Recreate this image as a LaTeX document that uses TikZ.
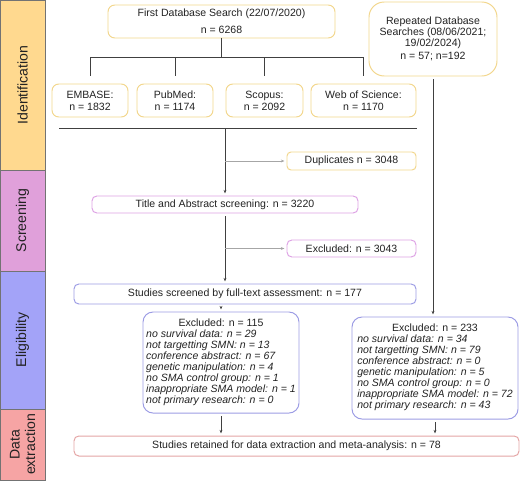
\documentclass[tikz,border=0pt]{standalone}
\usepackage{fontspec}
\setmainfont{Liberation Sans}
\usetikzlibrary{positioning, arrows.meta}

\definecolor{idfill}{HTML}{FFD98F}
\definecolor{scrfill}{HTML}{E0A0DA}
\definecolor{elifill}{HTML}{A3A3F8}
\definecolor{datfill}{HTML}{F6A4A4}
\definecolor{idline}{HTML}{F2D68C}
\definecolor{scrline}{HTML}{DDA2E4}
\definecolor{eliline}{HTML}{9C9CE4}
\definecolor{datline}{HTML}{E4A4A4}
\definecolor{textgrey}{HTML}{222222}

\begin{document}
\begin{tikzpicture}[x=0.025cm, y=-0.025cm,
        font=\fontsize{7.5}{7.8}\selectfont, text=textgrey,
        boxsize/.style 2 args={minimum width=#1*0.025cm, minimum height=#2*0.025cm},
        band/.style={draw=black!55, line width=0.6pt, rotate=90, inner sep=0pt, font=\fontsize{10}{11}\selectfont, align=center},
        idbox/.style={draw=idline, line width=0.7pt, rounded corners=0.17cm, inner sep=0pt, align=center},
        scrbox/.style={draw=scrline, line width=0.7pt, rounded corners=0.12cm, inner sep=0pt, align=center},
        elibox/.style={draw=eliline, line width=0.7pt, rounded corners=0.12cm, inner sep=0pt, align=center},
        datbox/.style={draw=datline, line width=0.7pt, rounded corners=0.12cm, inner sep=0pt, align=center},
        conn/.style={draw=black!75, line width=0.6pt},
        flow/.style={conn, -{Stealth[length=2.5pt, width=2pt]}, shorten >=1.5pt, shorten <=2pt},
        sideflow/.style={draw=black!35, line width=0.6pt, -{Stealth[length=2.5pt, width=2pt]}, shorten >=1.5pt}]
    \useasboundingbox (0,0) rectangle (520,482);

    % stage bands
    \node (identification) [band, fill=idfill, boxsize={170}{45}] at (22.5,85) {Identification};
    \node (screening) [band, fill=scrfill, boxsize={101}{45}] at (22.5,220.5) {Screening};
    \node (eligibility) [band, fill=elifill, boxsize={138}{45}] at (22.5,340) {Eligibility};
    \node (extraction) [band, fill=datfill, boxsize={71}{45}] at (22.5,444.5) {Data\\extraction};

    % identification
    \node (first) [idbox, boxsize={227}{33}] at (221.5,21.5) {First Database Search (22/07/2020)\\[4.2pt]n = 6268};
    \node (repeated) [idbox, rounded corners=0.38cm, boxsize={128}{74}] at (433,39) {Repeated Database\\Searches (08/06/2021;\\19/02/2024)\\[1.4pt]n = 57; n=192};
    \node (embase) [idbox, boxsize={76}{33}] at (90,100.5) {EMBASE:\\[0.7pt]n = 1832};
    \node (pubmed) [idbox, boxsize={76}{33}] at (175,100.5) {PubMed:\\[0.7pt]n = 1174};
    \node (scopus) [idbox, boxsize={77}{33}] at (264.5,100.5) {Scopus:\\[0.7pt]n = 2092};
    \node (wos) [idbox, boxsize={105}{33}] at (363.5,100.5) {Web of Science:\\[0.7pt]n = 1170};
    \node (duplicates) [idbox, rounded corners=0.1cm, boxsize={129}{18}] at (351.5,161) {Duplicates n = 3048};

    % screening
    \node (title) [scrbox, boxsize={266}{17}] at (225,204.5) {Title and Abstract screening: n = 3220};
    \node (excluded) [scrbox, boxsize={129}{17}] at (351.5,248.5) {Excluded: n = 3043};

    % eligibility
    \node (fulltext) [elibox, boxsize={342}{20}] at (245,294) {Studies screened by full-text assessment: n = 177};
    \node (exclfirst) [elibox, rounded corners=0.25cm, boxsize={156}{101}] at (221,362.5) {%
        \begin{tabular}{@{}l@{}}
            \multicolumn{1}{@{}c@{}}{Excluded: n = 115}\\
            \textit{no survival data: n = 29}\\
            \textit{not targetting SMN: n = 13}\\
            \textit{conference abstract: n = 67}\\
            \textit{genetic manipulation: n = 4}\\
            \textit{no SMA control group: n = 1}\\
            \textit{inappropriate SMA model: n = 1}\\
            \textit{not primary research: n = 0}
        \end{tabular}};
    \node (exclrepeat) [elibox, rounded corners=0.25cm, boxsize={166}{102}] at (435,368) {%
        \begin{tabular}{@{}l@{}}
            \multicolumn{1}{@{}c@{}}{Excluded: n = 233}\\
            \textit{no survival data: n = 34}\\
            \textit{not targetting SMN: n = 79}\\
            \textit{conference abstract: n = 0}\\
            \textit{genetic manipulation: n = 5}\\
            \textit{no SMA control group: n = 0}\\
            \textit{inappropriate SMA model: n = 72}\\
            \textit{not primary research: n = 43}
        \end{tabular}};

    % data extraction
    \node (retained) [datbox, boxsize={445}{20}] at (296.5,446) {Studies retained for data extraction and meta-analysis: n = 78};

    % connectors
    \draw[conn] (first.south) -- ++(0,19) coordinate (bar);
    \draw[conn] (bar -| embase.north) -- (bar -| wos.north);
    \foreach \db in {embase,pubmed,scopus,wos}
        \draw[conn] (bar -| \db.north) -- ([yshift=0.2cm]\db.north);
    \coordinate (mergeleft) at (59,128);
    \coordinate (mergeright) at (417,128);
    \draw[conn] (mergeleft) -- (mergeright);
    \draw[flow, shorten <=0pt] (title |- mergeleft) -- (title.north);
    \draw[sideflow] (title |- duplicates) -- (duplicates.west);
    \draw[flow] (title.south) -- (title.south |- fulltext.north);
    \draw[sideflow] (title |- excluded) -- (excluded.west);
    \draw[flow] (exclfirst |- fulltext.south) -- (exclfirst.north);
    \draw[flow] (exclfirst.south) -- (exclfirst.south |- retained.north);
    \draw[flow] (repeated.south) -- (repeated.south |- exclrepeat.north);
    \draw[flow] (exclrepeat.south) -- (exclrepeat.south |- retained.north);
\end{tikzpicture}
\end{document}
